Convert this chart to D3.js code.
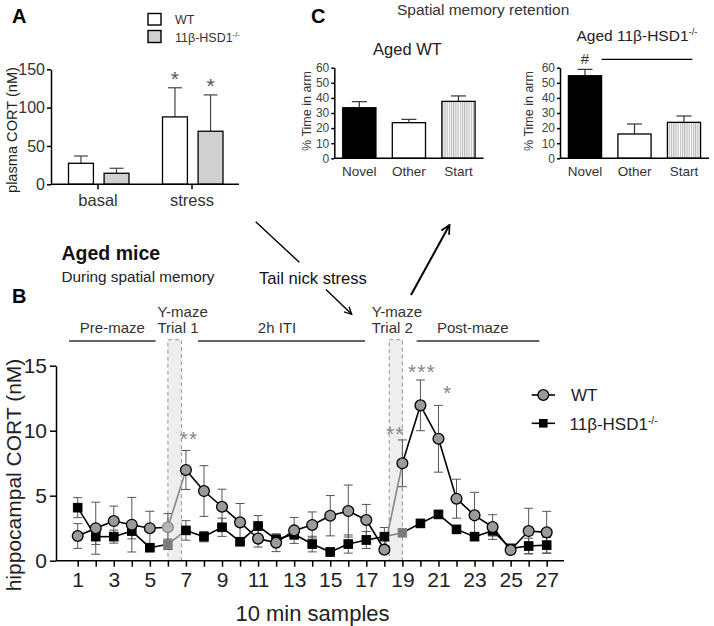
<!DOCTYPE html>
<html><head><meta charset="utf-8">
<script src="https://cdn.jsdelivr.net/npm/d3@7"></script>
<style>
body{margin:0;background:#fff}
svg{display:block}
text{font-family:"Liberation Sans",Arial,Helvetica,sans-serif}
</style>
</head><body>
<svg id="c" width="714" height="626"></svg>
<script>
// ---------- DATA ----------
// Panel A: plasma CORT (nM)
const groupsA = ["basal", "stress"];
const plasmaWT = [27.4, 87.9];
const plasmaWTErr = [9.5, 38];
const plasmaKO = [14.4, 69.2];
const plasmaKOErr = [6.5, 47.4];
const ticksA = [0, 50, 100, 150];

// Panel C: % time in arm
const arms = ["Novel", "Other", "Start"];
const timeWT = [33.5, 23.6, 37.7];
const timeWTErr = [4.0, 2.2, 3.6];
const timeKO = [54.7, 16.1, 23.8];
const timeKOErr = [4.2, 6.6, 4.2];
const ticksC = [0, 10, 20, 30, 40, 50, 60];

// Panel B: hippocampal CORT (nM), 10 min samples
const samples = [1,2,3,4,5,6,7,8,9,10,11,12,13,14,15,16,17,18,19,20,21,22,23,24,25,26,27];
const hipWT = [1.9,2.5,3.05,2.77,2.5,2.57,6.98,5.36,4.15,2.95,1.7,1.38,2.33,2.75,3.46,3.82,3.13,0.85,7.49,11.95,9.38,4.77,3.49,2.59,0.82,2.28,2.18];
const hipWTErr = [0.95,2.0,1.15,2.1,1.3,1.05,1.5,1.95,1.35,1.45,0.65,0.68,1.0,1.0,1.55,2.0,1.2,0.3,1.8,1.95,2.57,1.5,1.77,0.95,0.3,1.75,1.62];
const hipKO = [4.08,1.85,1.85,2.28,1.0,1.26,2.33,1.85,2.57,1.46,2.67,1.64,2.03,1.28,0.67,1.28,1.59,1.85,2.15,2.87,3.56,2.41,1.85,2.3,0.95,1.13,1.2];
const hipKOErr = [0.77,0.6,0.5,0.6,0.3,0.4,0.75,0.4,0.7,0.3,0.8,0.4,0.4,0.6,0.3,0.7,0.65,0.7,0.3,0.3,0.3,0.3,0.3,0.4,0.3,0.6,0.6];
const ticksB = [0, 5, 10, 15];
const trialWindows = [[6, 6.75], [18.27, 19]];   // shaded Y-maze trial windows (sample units)
const trialTransitions = [6, 18];                // segments drawn in grey (start sample)
const trialMarkers = [6, 19];
const phases = [
  {label: "Pre-maze", from: 0.52, to: 5.32, at: 2.92},
  {label: "2h ITI", from: 7.67, to: 16.93, at: 12.05},
  {label: "Post-maze", from: 19.79, to: 26.59, at: 22.9}
];
const trialLabels = [{at: 5.42, l1: "Y-maze", l2: "Trial 1"}, {at: 17.3, l1: "Y-maze", l2: "Trial 2"}];
const starsB = [{x: 7.17, y: 9.75, t: "**"}, {x: 18.6, y: 10.1, t: "**"}, {x: 20.08, y: 14.9, t: "***"}, {x: 21.5, y: 13.3, t: "*"}];

// ---------- DRAW ----------
const svg = d3.select("#c");
const defs = svg.append("defs");
const pat = defs.append("pattern").attr("id","hatch").attr("patternUnits","userSpaceOnUse")
  .attr("width",2.2).attr("height",10);
pat.append("rect").attr("width",2.2).attr("height",10).attr("fill","#fff");
pat.append("line").attr("x1",0.6).attr("x2",0.6).attr("y1",0).attr("y2",10).attr("stroke","#9a9a9a").attr("stroke-width",0.8);
defs.append("marker").attr("id","arr").attr("viewBox","0 0 10 10").attr("refX",9).attr("refY",5)
  .attr("markerWidth",9).attr("markerHeight",9).attr("markerUnits","userSpaceOnUse").attr("orient","auto")
  .append("path").attr("d","M1,1 L9,5 L1,9").attr("fill","none").attr("stroke","#000").attr("stroke-width",1.5);
defs.append("marker").attr("id","arr2").attr("viewBox","0 0 10 10").attr("refX",9).attr("refY",5)
  .attr("markerWidth",11).attr("markerHeight",11).attr("markerUnits","userSpaceOnUse").attr("orient","auto")
  .append("path").attr("d","M1,1 L9,5 L1,9").attr("fill","none").attr("stroke","#000").attr("stroke-width",1.6);

function styleAxis(g, size, color) {
  g.selectAll("path.domain").attr("stroke","#000").attr("stroke-width",1.5);
  g.selectAll(".tick line").attr("stroke","#000").attr("stroke-width",1.5);
  g.selectAll(".tick text").attr("font-size",size).attr("fill",color||"#222")
    .attr("font-family",'"Liberation Sans",Arial,sans-serif');
}
function supText(sel, base, sup) {
  sel.append("tspan").text(base);
  sel.append("tspan").text(sup).attr("font-size","60%").attr("dy","-0.55em");
}

// ===== Panel A =====
const gA = svg.append("g");
const yA = d3.scaleLinear().domain([0,150]).range([184.3,69.3]);
const xA = d3.scaleBand().domain(groupsA).range([51,239]);
const subA = d3.scaleBand().domain(["WT","KO"]).range([17.5,78]).paddingInner(0.3);
const barsA = groupsA.flatMap((g,i)=>[
  {g, s:"WT", v:plasmaWT[i], e:plasmaWTErr[i]},
  {g, s:"KO", v:plasmaKO[i], e:plasmaKOErr[i]}]);
barsA.forEach(d=>{
  const cx = xA(d.g)+subA(d.s)+subA.bandwidth()/2;
  gA.append("line").attr("x1",cx).attr("x2",cx).attr("y1",yA(d.v)).attr("y2",yA(d.v+d.e)).attr("stroke","#444").attr("stroke-width",1.2);
  gA.append("line").attr("x1",cx-7).attr("x2",cx+7).attr("y1",yA(d.v+d.e)).attr("y2",yA(d.v+d.e)).attr("stroke","#444").attr("stroke-width",1.2);
});
gA.selectAll("rect.b").data(barsA).join("rect")
  .attr("x",d=>xA(d.g)+subA(d.s)).attr("width",subA.bandwidth())
  .attr("y",d=>yA(d.v)).attr("height",d=>yA(0)-yA(d.v))
  .attr("fill",d=>d.s==="WT"?"#fff":"#d0d0d0").attr("stroke","#000").attr("stroke-width",1.3);
barsA.filter(d=>d.g==="stress").forEach(d=>{
  const cx = xA(d.g)+subA(d.s)+subA.bandwidth()/2;
  gA.append("text").attr("x",cx).attr("y",yA(d.v+d.e)-2).attr("text-anchor","middle")
    .attr("font-size",21).attr("fill","#555").text("*");
});
const axA = gA.append("g").attr("transform","translate(51,0)")
  .call(d3.axisLeft(yA).tickValues(ticksA).tickSize(4).tickSizeOuter(0).tickPadding(2));
styleAxis(axA, 16, "#333");
const axAx = gA.append("g").attr("transform",`translate(0,${yA(0)})`)
  .call(d3.axisBottom(xA).tickSize(5).tickSizeOuter(0).tickPadding(5));
styleAxis(axAx, 16.5, "#333");
axAx.select("path.domain").attr("d","M51,0H239");
gA.append("text").attr("transform",`translate(17,130) rotate(-90)`).attr("text-anchor","middle")
  .attr("font-size",14.6).attr("fill","#222").text("plasma CORT (nM)");
gA.append("text").attr("x",12).attr("y",23).attr("font-size",20).attr("font-weight","bold").text("A");
gA.append("rect").attr("x",148).attr("y",13.5).attr("width",13).attr("height",11.5).attr("fill","#fff").attr("stroke","#000").attr("stroke-width",1.4);
gA.append("rect").attr("x",148).attr("y",30.5).attr("width",13).attr("height",12).attr("fill","#d0d0d0").attr("stroke","#000").attr("stroke-width",1.4);
gA.append("text").attr("x",175).attr("y",24).attr("font-size",12.5).attr("fill","#333").text("WT");
supText(gA.append("text").attr("x",175).attr("y",41.5).attr("font-size",12.5).attr("fill","#333"), "11β-HSD1", "-/-");

// ===== Panel C =====
const yC = d3.scaleLinear().domain([0,60]).range([158.3,67.7]);
function panelC(x0, x1, vals, errs, labelX) {
  const g = svg.append("g");
  const xC = d3.scaleBand().domain(arms).range([x0,x1]).paddingInner(0.33).paddingOuter(0.17);
  const fills = ["#000","#fff","url(#hatch)"];
  arms.forEach((a,i)=>{
    const cx = xC(a)+xC.bandwidth()/2;
    g.append("line").attr("x1",cx).attr("x2",cx).attr("y1",yC(vals[i])).attr("y2",yC(vals[i]+errs[i])).attr("stroke","#333").attr("stroke-width",1.2);
    g.append("line").attr("x1",cx-7.5).attr("x2",cx+7.5).attr("y1",yC(vals[i]+errs[i])).attr("y2",yC(vals[i]+errs[i])).attr("stroke","#333").attr("stroke-width",1.2);
  });
  g.selectAll("rect.b").data(arms).join("rect")
    .attr("x",d=>xC(d)).attr("width",xC.bandwidth())
    .attr("y",(d,i)=>yC(vals[i])).attr("height",(d,i)=>yC(0)-yC(vals[i]))
    .attr("fill",(d,i)=>fills[i]).attr("stroke","#000").attr("stroke-width",1.3);
  const ay = g.append("g").attr("transform",`translate(${x0},0)`)
    .call(d3.axisLeft(yC).tickValues(ticksC).tickSize(3).tickSizeOuter(0).tickPadding(2));
  styleAxis(ay, 12, "#444");
  const ax = g.append("g").attr("transform",`translate(0,${yC(0)})`)
    .call(d3.axisBottom(xC).tickSize(0).tickSizeOuter(0).tickPadding(8));
  styleAxis(ax, 13.5, "#333");
  ax.select("path.domain").attr("d",`M${x0},0H${x1}`);
  g.append("text").attr("transform",`translate(${labelX},111) rotate(-90)`).attr("text-anchor","middle")
    .attr("font-size",12.5).attr("fill","#333").text("% Time in arm");
  return {g, xC};
}
const cW = panelC(334.3, 483.5, timeWT, timeWTErr, 310.5);
const cK = panelC(560, 709, timeKO, timeKOErr, 533);
svg.append("text").attr("x",407.5).attr("y",55).attr("text-anchor","middle").attr("font-size",16.5).attr("fill","#222").text("Aged WT");
supText(svg.append("text").attr("x",576.5).attr("y",40.5).attr("font-size",15.5).attr("fill","#222"), "Aged 11β-HSD1", "-/-");
svg.append("text").attr("x",311).attr("y",23).attr("font-size",20).attr("font-weight","bold").text("C");
svg.append("text").attr("x",397).attr("y",15).attr("font-size",15.5).attr("fill","#333").text("Spatial memory retention");
{
  const cx = cK.xC("Novel")+cK.xC.bandwidth()/2;
  svg.append("text").attr("x",cx).attr("y",63.5).attr("text-anchor","middle").attr("font-size",15).attr("fill","#333").text("#");
  svg.append("line").attr("x1",cK.xC("Novel")+cK.xC.bandwidth()).attr("x2",cK.xC("Start")+cK.xC.bandwidth()*0.75)
    .attr("y1",59.3).attr("y2",59.3).attr("stroke","#000").attr("stroke-width",1.3);
}

// ===== Annotations between panels =====
svg.append("text").attr("x",61.5).attr("y",259.5).attr("font-size",19.5).attr("font-weight","bold").attr("fill","#111").text("Aged mice");
svg.append("text").attr("x",61.5).attr("y",282).attr("font-size",15.3).attr("fill","#222").text("During spatial memory");
svg.append("text").attr("x",259).attr("y",284).attr("font-size",16.6).attr("fill","#111").text("Tail nick stress");
svg.append("line").attr("x1",255.7).attr("y1",221.7).attr("x2",299.3).attr("y2",262.3).attr("stroke","#000").attr("stroke-width",1.4);
svg.append("line").attr("x1",326).attr("y1",289.5).attr("x2",351.7).attr("y2",314.3).attr("stroke","#000").attr("stroke-width",1.4).attr("marker-end","url(#arr)");
svg.append("line").attr("x1",411).attr("y1",295).attr("x2",449.5).attr("y2",225).attr("stroke","#000").attr("stroke-width",2).attr("marker-end","url(#arr2)");

// ===== Panel B =====
const gB = svg.append("g");
const yB = d3.scaleLinear().domain([0,15]).range([560.7,365.7]);
const xB = d3.scaleLinear().domain([1,27]).range([77.7,546.7]);
const axisX = 56;
svg.append("text").attr("x",12).attr("y",303).attr("font-size",20).attr("font-weight","bold").text("B");

trialWindows.forEach(w=>{
  gB.append("rect").attr("x",xB(w[0])).attr("width",xB(w[1])-xB(w[0]))
    .attr("y",yB(17)).attr("height",yB(0)-yB(17))
    .attr("fill","#eeeeee").attr("stroke","#999").attr("stroke-width",1).attr("stroke-dasharray","4,3");
});
phases.forEach(p=>{
  gB.append("line").attr("x1",xB(p.from)).attr("x2",xB(p.to)).attr("y1",341).attr("y2",341).attr("stroke","#666").attr("stroke-width",2);
  gB.append("text").attr("x",xB(p.at)).attr("y",333).attr("text-anchor","middle").attr("font-size",15).attr("fill","#333").text(p.label);
});
trialLabels.forEach(t=>{
  gB.append("text").attr("x",xB(t.at)).attr("y",316.5).attr("font-size",15).attr("fill","#333").text(t.l1);
  gB.append("text").attr("x",xB(t.at)).attr("y",333).attr("font-size",15).attr("fill","#333").text(t.l2);
});

const ayB = gB.append("g").attr("transform",`translate(${axisX},0)`)
  .call(d3.axisLeft(yB).tickValues(ticksB).tickSize(6).tickSizeOuter(0).tickPadding(3));
styleAxis(ayB, 21, "#222");
const axB = gB.append("g").attr("transform",`translate(0,${yB(0)})`)
  .call(d3.axisBottom(xB).tickValues(samples).tickFormat(d=>d%2?d:"").tickSize(6).tickPadding(5));
styleAxis(axB, 21, "#222");
axB.select("path.domain").attr("d",`M${axisX},0H564`);
gB.append("text").attr("transform",`translate(20.5,475) rotate(-90)`).attr("text-anchor","middle")
  .attr("font-size",21).attr("fill","#222").text("hippocampal CORT (nM)");
gB.append("text").attr("x",312.5).attr("y",621).attr("text-anchor","middle").attr("font-size",22).attr("fill","#222").text("10 min samples");

function series(vals, errs) {
  return samples.map((s,i)=>({s, v:vals[i], e:errs[i]}));
}
const dWT = series(hipWT, hipWTErr), dKO = series(hipKO, hipKOErr);
function drawErr(data) {
  data.forEach(d=>{
    const x = xB(d.s);
    gB.append("line").attr("x1",x).attr("x2",x).attr("y1",yB(d.v-d.e)).attr("y2",yB(d.v+d.e)).attr("stroke","#555").attr("stroke-width",1);
    [d.v-d.e, d.v+d.e].forEach(v=>gB.append("line").attr("x1",x-4.5).attr("x2",x+4.5).attr("y1",yB(v)).attr("y2",yB(v)).attr("stroke","#555").attr("stroke-width",1));
  });
}
function drawLine(data) {
  for (let i=0;i<data.length-1;i++){
    const grey = trialTransitions.includes(data[i].s);
    gB.append("line").attr("x1",xB(data[i].s)).attr("y1",yB(data[i].v)).attr("x2",xB(data[i+1].s)).attr("y2",yB(data[i+1].v))
      .attr("stroke",grey?"#888":"#000").attr("stroke-width",1.6);
  }
}
drawErr(dKO); drawErr(dWT);
drawLine(dKO); drawLine(dWT);
gB.selectAll("rect.sq").data(dKO).join("rect")
  .attr("x",d=>xB(d.s)-4.3).attr("y",d=>yB(d.v)-4.3).attr("width",8.6).attr("height",8.6)
  .attr("fill",d=>trialMarkers.includes(d.s)?"#7a7a7a":"#000")
  .attr("stroke",d=>trialMarkers.includes(d.s)?"#888":"#000").attr("stroke-width",1);
gB.selectAll("circle.wt").data(dWT).join("circle")
  .attr("cx",d=>xB(d.s)).attr("cy",d=>yB(d.v)).attr("r",5.4)
  .attr("fill",d=>d.s===trialMarkers[0]?"#b5b5b5":"#9a9a9a")
  .attr("stroke",d=>d.s===trialMarkers[0]?"#888":"#000").attr("stroke-width",1.3);
starsB.forEach(s=>{
  gB.append("text").attr("x",xB(s.x)).attr("y",yB(s.y)+12).attr("text-anchor","middle")
    .attr("font-size",21).attr("fill","#888").attr("letter-spacing",1).text(s.t);
});
gB.append("line").attr("x1",531.7).attr("x2",555).attr("y1",395).attr("y2",395).attr("stroke","#000").attr("stroke-width",1.6);
gB.append("circle").attr("cx",543.3).attr("cy",395).attr("r",5.4).attr("fill","#9a9a9a").attr("stroke","#000").attr("stroke-width",1.3);
gB.append("text").attr("x",571).attr("y",401).attr("font-size",17).attr("fill","#222").text("WT");
gB.append("line").attr("x1",531.7).attr("x2",555).attr("y1",423.3).attr("y2",423.3).attr("stroke","#000").attr("stroke-width",1.6);
gB.append("rect").attr("x",543.3-4.3).attr("y",423.3-4.3).attr("width",8.6).attr("height",8.6).attr("fill","#000");
supText(gB.append("text").attr("x",569.5).attr("y",429.5).attr("font-size",17).attr("fill","#222"), "11β-HSD1", "-/-");
</script>
</body></html>
